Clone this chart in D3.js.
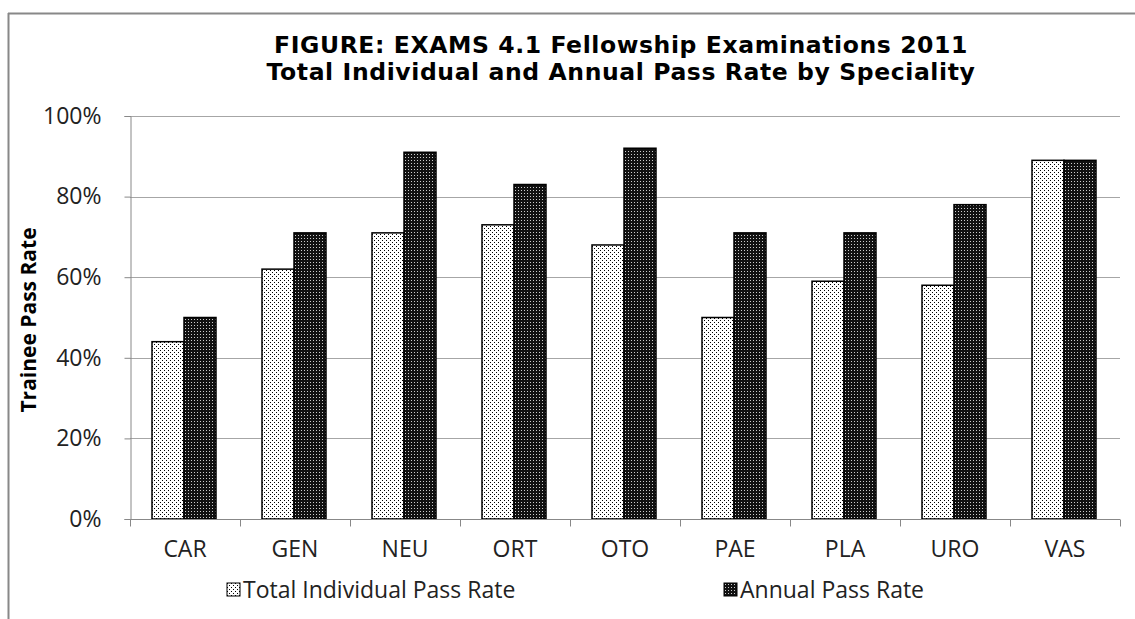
<!DOCTYPE html>
<html>
<head>
<meta charset="utf-8">
<script src="https://cdn.jsdelivr.net/npm/d3@7"></script>
<style>
  body { margin: 0; background: #fff; }
  text { font-family: "Open Sans", "Liberation Sans", sans-serif; }
</style>
</head>
<body>
<div id="chart"></div>
<script>
const categories = ['CAR', 'GEN', 'NEU', 'ORT', 'OTO', 'PAE', 'PLA', 'URO', 'VAS'];
const totalRate = [44, 62, 71, 73, 68, 50, 59, 58, 89];
const annualRate = [50, 71, 91, 83, 92, 71, 71, 78, 89];
const seriesNames = ['Total Individual Pass Rate', 'Annual Pass Rate'];
const yTicks = [0, 20, 40, 60, 80, 100];
const titleLines = ['FIGURE: EXAMS 4.1 Fellowship Examinations 2011',
  'Total Individual and Annual Pass Rate by Speciality'];

const width = 1135, height = 619;
const plotLeft = 130, plotRight = 1120, plotTop = 116, plotBottom = 519;

const svg = d3.select('#chart').append('svg')
  .attr('width', width)
  .attr('height', height);

// patterns
const defs = svg.append('defs');
const p1 = defs.append('pattern').attr('id', 'dotsLight')
  .attr('patternUnits', 'userSpaceOnUse').attr('width', 4).attr('height', 4);
p1.append('rect').attr('width', 4).attr('height', 4).attr('fill', '#fff');
p1.append('rect').attr('x', 0).attr('y', 0).attr('width', 1).attr('height', 1).attr('fill', '#000');
p1.append('rect').attr('x', 2).attr('y', 2).attr('width', 1).attr('height', 1).attr('fill', '#000');

const p2 = defs.append('pattern').attr('id', 'dotsDark')
  .attr('patternUnits', 'userSpaceOnUse').attr('width', 3).attr('height', 3);
p2.append('rect').attr('width', 3).attr('height', 3).attr('fill', '#111');
p2.append('rect').attr('x', 1).attr('y', 1).attr('width', 1).attr('height', 1).attr('fill', '#ccc');

const fills = ['url(#dotsLight)', 'url(#dotsDark)'];

// frame
svg.append('line').attr('x1', 8.5).attr('x2', 8.5).attr('y1', 13).attr('y2', height).attr('stroke', '#888').attr('stroke-width', 2);
svg.append('line').attr('x1', 8).attr('x2', width).attr('y1', 13.5).attr('y2', 13.5).attr('stroke', '#888').attr('stroke-width', 2);

// title
svg.append('g').selectAll('text').data(titleLines).enter().append('text')
  .attr('x', 621)
  .attr('y', (d, i) => 53 + i * 27)
  .attr('text-anchor', 'middle')
  .style('font-family', '"DejaVu Sans", sans-serif')
  .style('font-size', '23.5px')
  .style('font-weight', 'bold')
  .style('letter-spacing', '0.6px')
  .attr('fill', '#000')
  .text(d => d);

const x0 = d3.scaleBand().domain(categories).range([plotLeft, plotRight]).paddingInner(0).paddingOuter(0);
const x1 = d3.scaleBand().domain([0, 1]).range([22, x0.bandwidth() - 24]).padding(0);
const y = d3.scaleLinear().domain([0, 100]).range([plotBottom, plotTop]);

// grid
svg.append('g').selectAll('line').data(yTicks.slice(1)).enter().append('line')
  .attr('x1', plotLeft).attr('x2', plotRight)
  .attr('y1', d => Math.round(y(d)) + 0.5).attr('y2', d => Math.round(y(d)) + 0.5)
  .attr('stroke', '#a6a6a6');

// bars
const groups = svg.append('g').selectAll('g').data(categories).enter().append('g')
  .attr('transform', d => 'translate(' + x0(d) + ',0)');

groups.selectAll('rect')
  .data((d, i) => [totalRate[i], annualRate[i]].map((v, k) => ({ k, v })))
  .enter().append('rect')
  .attr('x', d => x1(d.k))
  .attr('y', d => y(d.v))
  .attr('width', x1.bandwidth())
  .attr('height', d => plotBottom - y(d.v))
  .attr('fill', d => fills[d.k])
  .attr('stroke', '#000')
  .attr('stroke-width', 1.5);

// y axis
const yAxis = svg.append('g').attr('transform', 'translate(' + (plotLeft + 0.5) + ',0)')
  .call(d3.axisLeft(y).tickValues(yTicks).tickSize(6).tickPadding(23).tickFormat(d => d + '%'));
yAxis.select('.domain').attr('stroke', '#888');
yAxis.selectAll('.tick line').attr('stroke', '#888');
yAxis.selectAll('.tick text').attr('font-size', 23).attr('fill', '#222');

// x axis
const xAxis = svg.append('g').attr('transform', 'translate(0,' + (plotBottom + 0.5) + ')');
xAxis.append('line').attr('x1', plotLeft).attr('x2', plotRight).attr('stroke', '#888');
xAxis.selectAll('line.tk').data(d3.range(categories.length + 1)).enter().append('line')
  .attr('class', 'tk')
  .attr('x1', i => Math.round(plotLeft + i * x0.step()) + 0.5)
  .attr('x2', i => Math.round(plotLeft + i * x0.step()) + 0.5)
  .attr('y1', 0).attr('y2', 7).attr('stroke', '#888');
xAxis.selectAll('text').data(categories).enter().append('text')
  .attr('x', d => x0(d) + x0.bandwidth() / 2)
  .attr('y', 37)
  .attr('text-anchor', 'middle')
  .attr('font-size', 23)
  .attr('fill', '#222')
  .text(d => d);

// y label
svg.append('text')
  .attr('transform', 'translate(36,' + 320 + ') rotate(-90)')
  .attr('text-anchor', 'middle')
  .attr('font-size', 21)
  .attr('font-weight', 'bold')
  .text('Trainee Pass Rate');

// legend
const legendX = [227, 724];
const legend = svg.append('g').selectAll('g').data(seriesNames).enter().append('g')
  .attr('transform', (d, i) => 'translate(' + legendX[i] + ',583)');
legend.append('rect')
  .attr('width', 13).attr('height', 13)
  .attr('fill', (d, i) => fills[i])
  .attr('stroke', '#000').attr('stroke-width', 1);
legend.append('text')
  .attr('x', 16).attr('y', 7).attr('dy', '0.35em')
  .attr('font-size', 23).attr('fill', '#222')
  .text(d => d);
</script>
</body>
</html>
